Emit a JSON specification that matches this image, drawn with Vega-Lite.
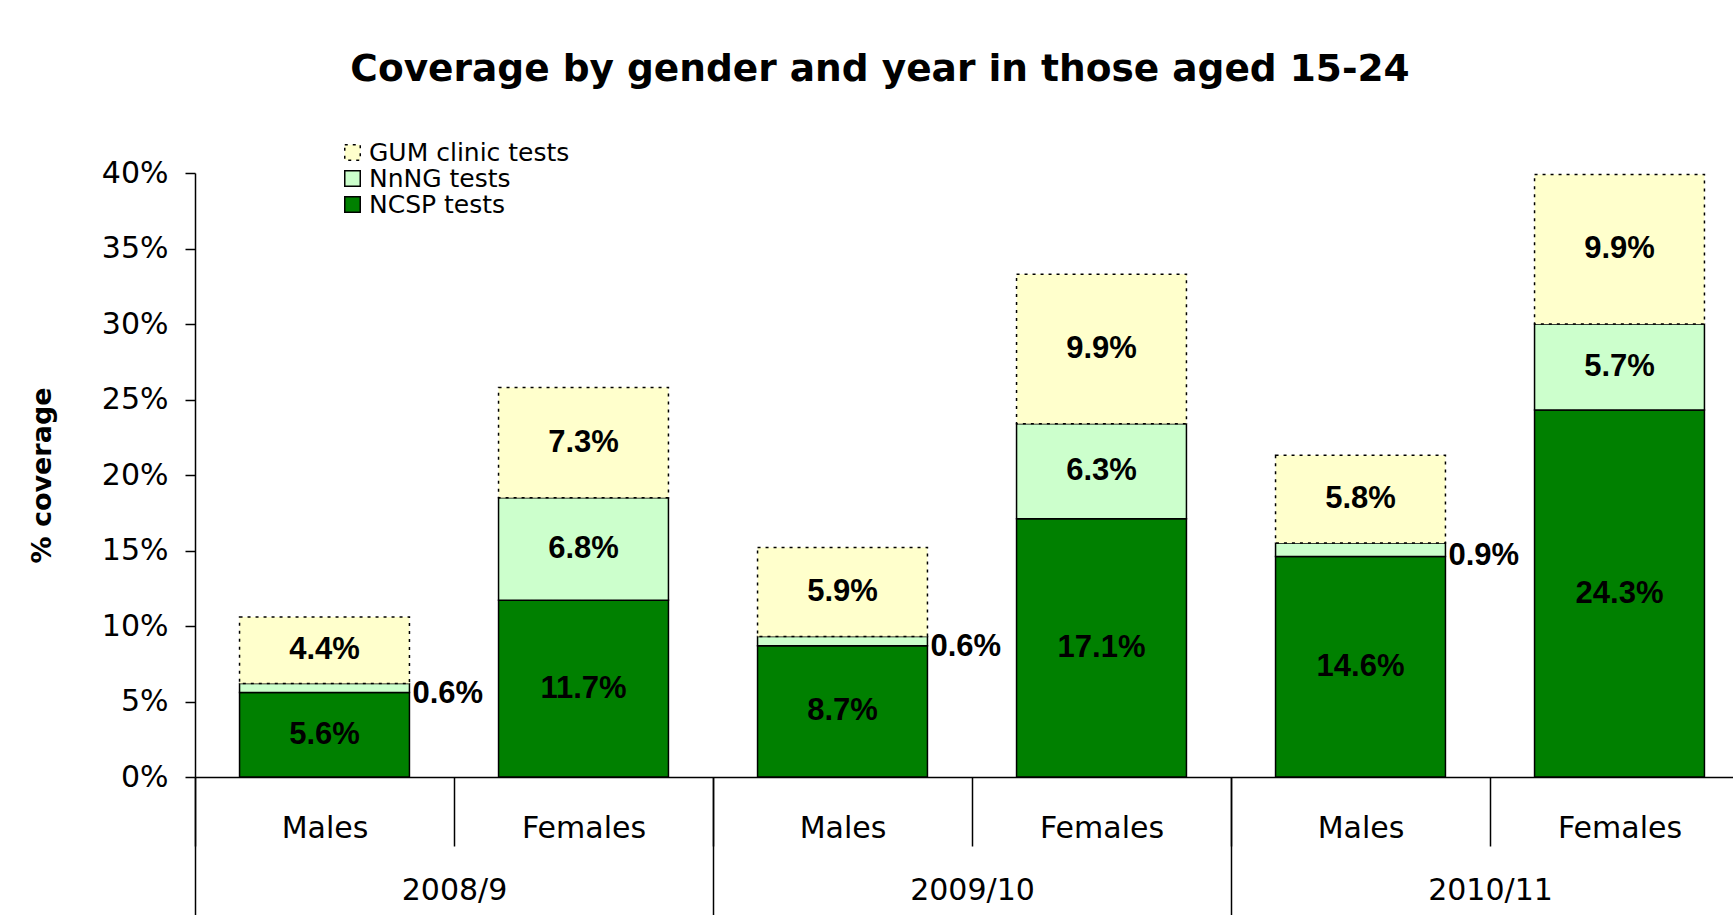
{
  "$schema": "https://vega.github.io/schema/vega-lite/v6.json",
  "autosize": {"type": "none"},
  "padding": {"left": 195, "top": 173, "right": 0, "bottom": 138},
  "width": 1538,
  "height": 604,
  "background": "white",
  "config": {"view": {"stroke": null}},
  "title": {
    "text": "Coverage by gender and year in those aged 15-24",
    "font": "DejaVu Sans",
    "fontSize": 37.5,
    "fontWeight": "bold",
    "color": "#000000",
    "anchor": "middle",
    "frame": "group",
    "dx": -84,
    "baseline": "alphabetic",
    "offset": 22
  },
  "layer": [
    {
      "data": {
        "values": [
          {"year": "2008/9", "gender": "Males", "key": "2008/9|Males", "series": "NCSP tests", "value": 0.056},
          {"year": "2008/9", "gender": "Males", "key": "2008/9|Males", "series": "NnNG tests", "value": 0.006},
          {"year": "2008/9", "gender": "Males", "key": "2008/9|Males", "series": "GUM clinic tests", "value": 0.044},
          {"year": "2008/9", "gender": "Females", "key": "2008/9|Females", "series": "NCSP tests", "value": 0.117},
          {"year": "2008/9", "gender": "Females", "key": "2008/9|Females", "series": "NnNG tests", "value": 0.068},
          {"year": "2008/9", "gender": "Females", "key": "2008/9|Females", "series": "GUM clinic tests", "value": 0.073},
          {"year": "2009/10", "gender": "Males", "key": "2009/10|Males", "series": "NCSP tests", "value": 0.087},
          {"year": "2009/10", "gender": "Males", "key": "2009/10|Males", "series": "NnNG tests", "value": 0.006},
          {"year": "2009/10", "gender": "Males", "key": "2009/10|Males", "series": "GUM clinic tests", "value": 0.059},
          {"year": "2009/10", "gender": "Females", "key": "2009/10|Females", "series": "NCSP tests", "value": 0.171},
          {"year": "2009/10", "gender": "Females", "key": "2009/10|Females", "series": "NnNG tests", "value": 0.063},
          {"year": "2009/10", "gender": "Females", "key": "2009/10|Females", "series": "GUM clinic tests", "value": 0.099},
          {"year": "2010/11", "gender": "Males", "key": "2010/11|Males", "series": "NCSP tests", "value": 0.146},
          {"year": "2010/11", "gender": "Males", "key": "2010/11|Males", "series": "NnNG tests", "value": 0.009},
          {"year": "2010/11", "gender": "Males", "key": "2010/11|Males", "series": "GUM clinic tests", "value": 0.058},
          {"year": "2010/11", "gender": "Females", "key": "2010/11|Females", "series": "NCSP tests", "value": 0.243},
          {"year": "2010/11", "gender": "Females", "key": "2010/11|Females", "series": "NnNG tests", "value": 0.057},
          {"year": "2010/11", "gender": "Females", "key": "2010/11|Females", "series": "GUM clinic tests", "value": 0.099}
        ]
      },
      "transform": [
        {"stack": "value", "groupby": ["key"], "as": ["v0", "v1"]},
        {"calculate": "(datum.v0 + datum.v1) / 2", "as": "mid"}
      ],
      "layer": [
        {
          "mark": {"type": "bar", "width": {"band": 0.656}, "stroke": "#000000", "strokeWidth": 1.5},
          "encoding": {
            "x": {
              "field": "key", "type": "nominal", "sort": null,
              "scale": {"type": "band", "domain": ["2008/9|Males", "2008/9|Females", "2009/10|Males", "2009/10|Females", "2010/11|Males", "2010/11|Females"], "range": [0, 1554], "paddingInner": 0, "paddingOuter": 0},
              "axis": {
                "title": null,
                "labelExpr": "split(datum.label, '|')[1]",
                "tickBand": "extent",
                "tickSize": 69,
                "labelPadding": -33,
                "labelBaseline": "top",
                "labelAngle": 0,
                "labelFont": "DejaVu Sans",
                "labelFontSize": 30,
                "labelColor": "#000000",
                "tickColor": "#000000",
                "tickWidth": 1.5,
                "domainColor": "#000000",
                "domainWidth": 1.5,
                "grid": false
              }
            },
            "y": {
              "field": "v0", "type": "quantitative",
              "scale": {"domain": [0, 0.4], "nice": false, "zero": true},
              "axis": {
                "title": "% coverage",
                "titleFont": "DejaVu Sans",
                "titleFontSize": 27,
                "titleFontWeight": "bold",
                "titleColor": "#000000",
                "titlePadding": 45,
                "format": ".0%",
                "values": [0, 0.05, 0.1, 0.15, 0.2, 0.25, 0.3, 0.35, 0.4],
                "labelFont": "DejaVu Sans",
                "labelFontSize": 30,
                "labelColor": "#000000",
                "labelPadding": 17,
                "tickSize": 10,
                "tickColor": "#000000",
                "tickWidth": 1.5,
                "domainColor": "#000000",
                "domainWidth": 1.5,
                "grid": false
              }
            },
            "y2": {"field": "v1"},
            "fill": {
              "field": "series", "type": "nominal",
              "scale": {"domain": ["GUM clinic tests", "NnNG tests", "NCSP tests"], "range": ["#FFFFCC", "#CCFFCC", "#008000"]},
              "legend": {
                "title": null, "orient": "none", "legendX": 145, "legendY": -33,
                "labelFont": "DejaVu Sans", "labelFontSize": 25, "labelColor": "#000000", "labelLimit": 500,
                "symbolType": "square", "symbolSize": 240, "symbolStrokeColor": "#000000", "symbolStrokeWidth": 1.5,
                "symbolOpacity": 1, "labelOffset": 4, "rowPadding": 0, "padding": 0,
                "encode": {"symbols": {"update": {"stroke": {"value": "#000000"}, "strokeWidth": {"value": 1.5}}}}
              }
            },
            "strokeDash": {
              "field": "series", "type": "nominal",
              "scale": {"domain": ["GUM clinic tests", "NnNG tests", "NCSP tests"], "range": [[3, 5], [1, 0], [1, 0]]},
              "legend": {
                "title": null, "orient": "none", "legendX": 145, "legendY": -33,
                "labelFont": "DejaVu Sans", "labelFontSize": 25, "labelColor": "#000000", "labelLimit": 500,
                "symbolType": "square", "symbolSize": 240, "symbolStrokeColor": "#000000", "symbolStrokeWidth": 1.5,
                "symbolOpacity": 1, "labelOffset": 4, "rowPadding": 0, "padding": 0,
                "encode": {"symbols": {"update": {"stroke": {"value": "#000000"}, "strokeWidth": {"value": 1.5}}}}
              }
            }
          }
        },
        {
          "transform": [{"filter": "datum.value >= 0.02"}],
          "mark": {"type": "text", "font": "Liberation Sans", "fontSize": 31, "fontWeight": "bold", "color": "#000000", "align": "center", "baseline": "middle"},
          "encoding": {
            "x": {"field": "key", "type": "nominal", "sort": null, "scale": {"type": "band"}, "bandPosition": 0.5},
            "y": {"field": "mid", "type": "quantitative"},
            "text": {"field": "value", "type": "quantitative", "format": ".1%"}
          }
        },
        {
          "transform": [{"filter": "datum.value < 0.02"}],
          "mark": {"type": "text", "font": "Liberation Sans", "fontSize": 31, "fontWeight": "bold", "color": "#000000", "align": "left", "baseline": "middle", "dx": 3, "dy": 6},
          "encoding": {
            "x": {"field": "key", "type": "nominal", "sort": null, "scale": {"type": "band"}, "bandPosition": 0.828},
            "y": {"field": "mid", "type": "quantitative"},
            "text": {"field": "value", "type": "quantitative", "format": ".1%"}
          }
        }
      ]
    },
    {
      "data": {"values": [{"year": "2008/9"}, {"year": "2009/10"}, {"year": "2010/11"}]},
      "mark": {"type": "rule", "opacity": 0},
      "encoding": {
        "x": {
          "field": "year", "type": "nominal", "sort": null,
          "scale": {"type": "band", "domain": ["2008/9", "2009/10", "2010/11"], "range": [0, 1554], "paddingInner": 0, "paddingOuter": 0},
          "axis": {
            "orient": "bottom",
            "title": null,
            "domain": false,
            "tickBand": "extent",
            "tickSize": 140,
            "labelPadding": -42,
            "labelBaseline": "top",
            "labelAngle": 0,
            "labelFont": "DejaVu Sans",
            "labelFontSize": 30,
            "labelColor": "#000000",
            "tickColor": "#000000",
            "tickWidth": 1.5,
            "grid": false
          }
        }
      }
    }
  ],
  "resolve": {"scale": {"x": "independent"}, "axis": {"x": "independent"}}
}
